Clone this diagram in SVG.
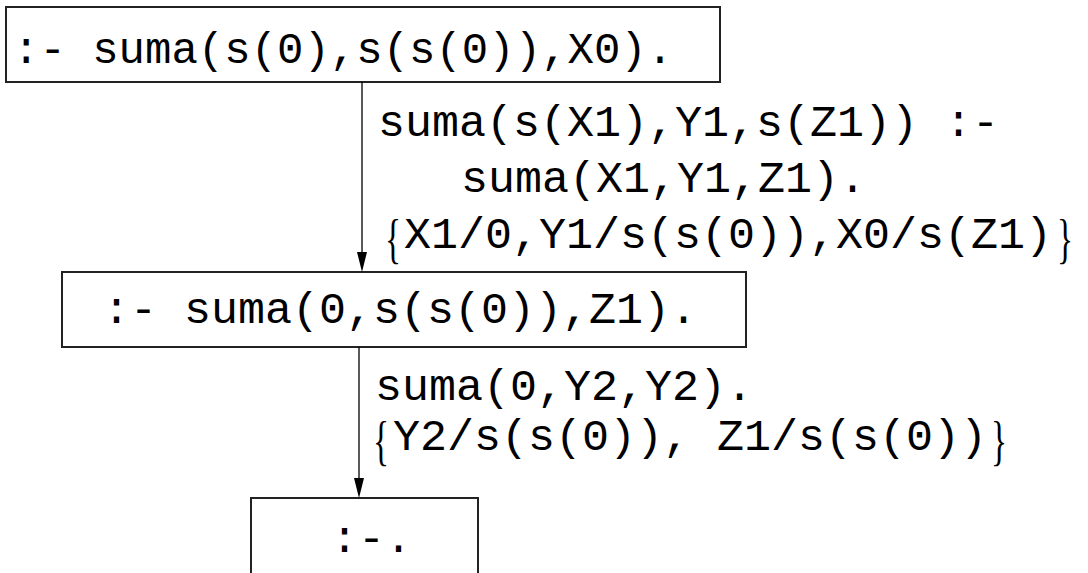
<svg xmlns="http://www.w3.org/2000/svg" width="1088" height="573" viewBox="0 0 1088 573">
<style>
.box{fill:#fff;stroke:#222;stroke-width:2}
.t{font-family:"Liberation Mono","Courier New",monospace;font-size:45px;fill:#000}
.br{font-family:"Liberation Serif","DejaVu Serif",serif;font-size:54px;fill:#000}
.edge{stroke:#000;stroke-width:1.3;fill:none}
.head{fill:#000}
</style>
<rect width="1088" height="573" fill="#fff"/>
<g id="n1">
<rect class="box" x="6" y="7" width="714" height="75"/>
<text class="t" x="13" y="63" style="font-size:44px">:- suma(s(0),s(s(0)),X0).</text>
</g>
<g id="n2">
<rect class="box" x="62" y="272" width="684" height="75"/>
<text class="t" x="103" y="323">:- suma(0,s(s(0)),Z1).</text>
</g>
<g id="n3">
<rect class="box" x="251" y="498" width="227" height="90"/>
<text class="t" x="331" y="552">:-.</text>
</g>
<g id="edges">
<line class="edge" x1="362" y1="82" x2="362" y2="254"/>
<path class="head" d="M357,252 L367,252 L362,272 Z"/>
<line class="edge" x1="359" y1="347" x2="359" y2="480"/>
<path class="head" d="M354,478 L364,478 L359,498 Z"/>
</g>
<g id="labels">
<text class="t" x="378" y="136">suma(s(X1),Y1,s(Z1)) :-</text>
<text class="t" x="461" y="192">suma(X1,Y1,Z1).</text>
<text class="br" transform="translate(385,257) scale(0.62,1)">{</text>
<text class="t" x="404" y="248">X1/0,Y1/s(s(0)),X0/s(Z1)</text>
<text class="br" transform="translate(1057,257) scale(0.62,1)">}</text>
<text class="t" x="375" y="400">suma(0,Y2,Y2).</text>
<text class="br" transform="translate(373,459) scale(0.62,1)">{</text>
<text class="t" x="393" y="450">Y2/s(s(0)), Z1/s(s(0))</text>
<text class="br" transform="translate(991,459) scale(0.62,1)">}</text>
</g>
</svg>
